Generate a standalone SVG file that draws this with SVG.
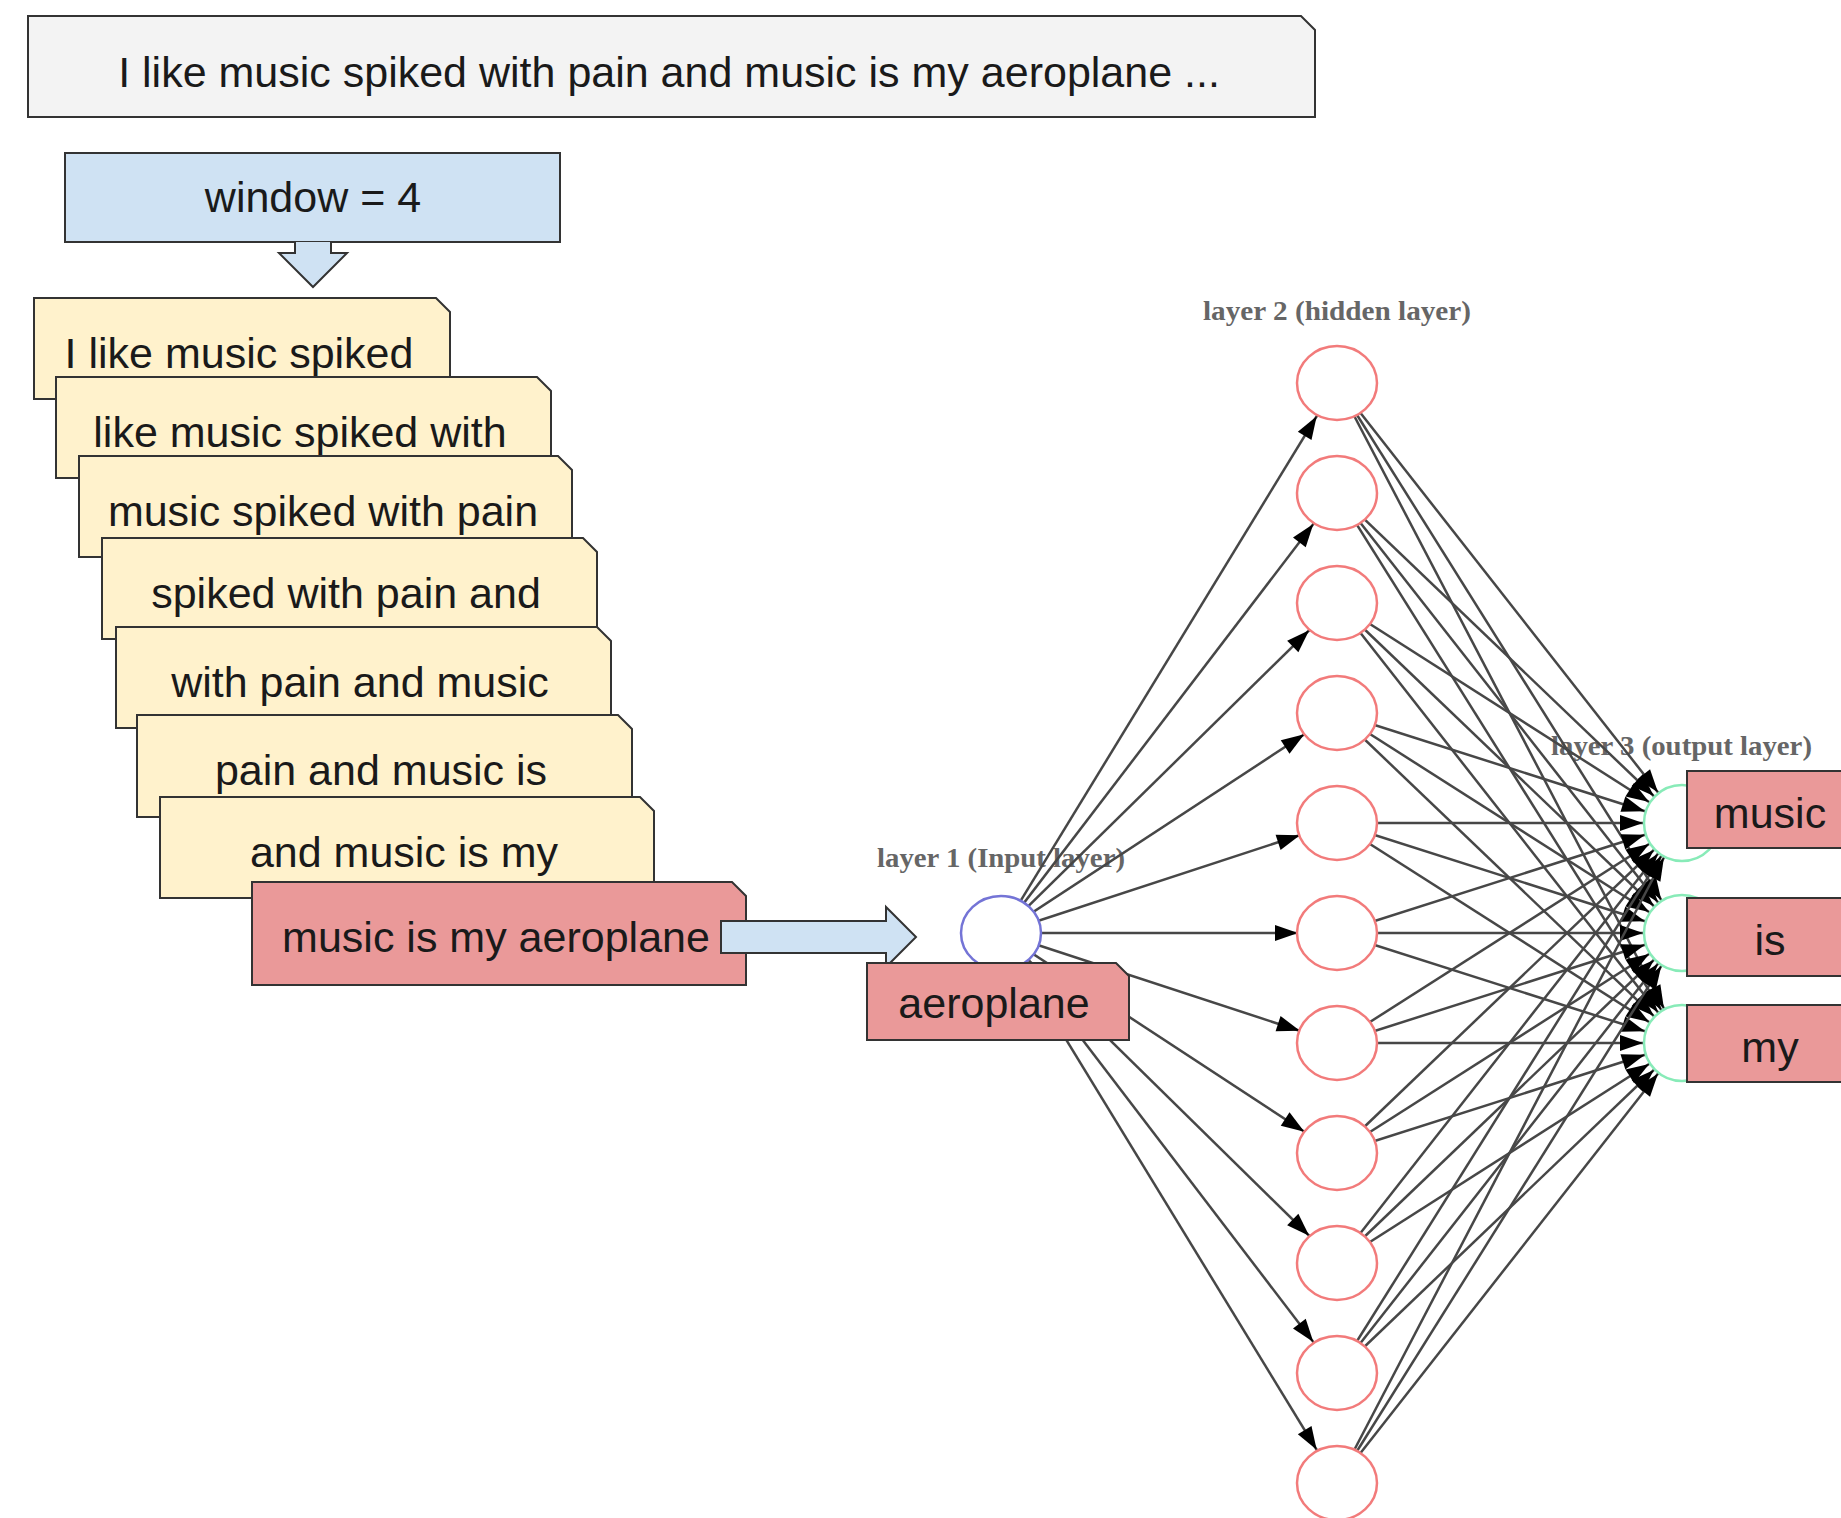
<svg xmlns="http://www.w3.org/2000/svg" width="1841" height="1518" viewBox="0 0 1841 1518">
  <style>
    .box { stroke: #333; stroke-width: 2; }
    .sent { fill: #f3f3f3; }
    .win { fill: #cfe2f3; }
    .ctx { fill: #fff2cc; }
    .word { fill: #ea9999; }
    .t { font-family: "Liberation Sans", Arial, sans-serif; font-size: 43px; fill: #1a1a1a; text-anchor: middle; }
    .lbl { font-family: "Liberation Serif", "Times New Roman", serif; font-size: 27px; font-weight: bold; fill: #666; }
    .edge { stroke: #474747; stroke-width: 2.5; marker-end: url(#arrow); }
    .hid { fill: #fff; stroke: #f27b7b; stroke-width: 2.5; }
    .inp { fill: #fff; stroke: #7474d6; stroke-width: 2.5; }
    .out { fill: #fff; stroke: #88ebb8; stroke-width: 2.5; }
  </style>
  <defs>
    <marker id="arrow" markerUnits="userSpaceOnUse" markerWidth="60" markerHeight="30" refX="39" refY="0" orient="auto" overflow="visible">
      <path d="M-23,-8 L0,0 L-23,8 Z" fill="#000"/>
    </marker>
  </defs>
  <rect width="1841" height="1518" fill="#fff"/>

  <!-- full sentence -->
  <g id="sentence">
    <path class="box sent" d="M28,16 H1301 L1315,30 V117 H28 Z"/>
    <text class="t" x="669" y="87">I like music spiked with pain and music is my aeroplane ...</text>
  </g>

  <!-- window size -->
  <g id="window">
    <rect class="box win" x="65" y="153" width="495" height="89"/>
    <text class="t" x="313" y="212">window = 4</text>
  </g>
  <g id="window-arrow">
    <path class="box win" d="M295,242 V253 H279 L313,287 L347,253 H331 V242"/>
  </g>

  <!-- sliding context windows -->
  <g id="ctx1">
    <path class="box ctx" d="M34,298 H436 L450,312 V399 H34 Z"/>
    <text class="t" x="239" y="368">I like music spiked</text>
  </g>
  <g id="ctx2">
    <path class="box ctx" d="M56,377 H537 L551,391 V478 H56 Z"/>
    <text class="t" x="300" y="447">like music spiked with</text>
  </g>
  <g id="ctx3">
    <path class="box ctx" d="M79,456 H558 L572,470 V557 H79 Z"/>
    <text class="t" x="323" y="526">music spiked with pain</text>
  </g>
  <g id="ctx4">
    <path class="box ctx" d="M102,538 H583 L597,552 V639 H102 Z"/>
    <text class="t" x="346" y="608">spiked with pain and</text>
  </g>
  <g id="ctx5">
    <path class="box ctx" d="M116,627 H597 L611,641 V728 H116 Z"/>
    <text class="t" x="360" y="697">with pain and music</text>
  </g>
  <g id="ctx6">
    <path class="box ctx" d="M137,715 H618 L632,729 V817 H137 Z"/>
    <text class="t" x="381" y="785">pain and music is</text>
  </g>
  <g id="ctx7">
    <path class="box ctx" d="M160,797 H640 L654,811 V898 H160 Z"/>
    <text class="t" x="404" y="867">and music is my</text>
  </g>
  <g id="ctx8">
    <path class="box word" d="M252,882 H732 L746,896 V985 H252 Z"/>
    <text class="t" x="496" y="952">music is my aeroplane</text>
  </g>
  <g id="feed-arrow">
    <path class="box win" d="M721,921 H886 V907 L916,937 L886,967 V953 H721 Z"/>
  </g>

  <!-- layer captions -->
  <g id="captions">
    <text class="lbl" x="877" y="867" textLength="248" lengthAdjust="spacingAndGlyphs">layer 1 (Input layer)</text>
    <text class="lbl" x="1203" y="320" textLength="268" lengthAdjust="spacingAndGlyphs">layer 2 (hidden layer)</text>
    <text class="lbl" x="1551" y="755" textLength="261" lengthAdjust="spacingAndGlyphs">layer 3 (output layer)</text>
  </g>

  <!-- weights -->
  <g id="connectors">
    <line class="edge" x1="1001" y1="933" x2="1337" y2="383"/>
    <line class="edge" x1="1001" y1="933" x2="1337" y2="493"/>
    <line class="edge" x1="1001" y1="933" x2="1337" y2="603"/>
    <line class="edge" x1="1001" y1="933" x2="1337" y2="713"/>
    <line class="edge" x1="1001" y1="933" x2="1337" y2="823"/>
    <line class="edge" x1="1001" y1="933" x2="1337" y2="933"/>
    <line class="edge" x1="1001" y1="933" x2="1337" y2="1043"/>
    <line class="edge" x1="1001" y1="933" x2="1337" y2="1153"/>
    <line class="edge" x1="1001" y1="933" x2="1337" y2="1263"/>
    <line class="edge" x1="1001" y1="933" x2="1337" y2="1373"/>
    <line class="edge" x1="1001" y1="933" x2="1337" y2="1483"/>

    <line class="edge" x1="1337" y1="383" x2="1682" y2="823"/>
    <line class="edge" x1="1337" y1="383" x2="1682" y2="933"/>
    <line class="edge" x1="1337" y1="383" x2="1682" y2="1043"/>
    <line class="edge" x1="1337" y1="493" x2="1682" y2="823"/>
    <line class="edge" x1="1337" y1="493" x2="1682" y2="933"/>
    <line class="edge" x1="1337" y1="493" x2="1682" y2="1043"/>
    <line class="edge" x1="1337" y1="603" x2="1682" y2="823"/>
    <line class="edge" x1="1337" y1="603" x2="1682" y2="933"/>
    <line class="edge" x1="1337" y1="603" x2="1682" y2="1043"/>
    <line class="edge" x1="1337" y1="713" x2="1682" y2="823"/>
    <line class="edge" x1="1337" y1="713" x2="1682" y2="933"/>
    <line class="edge" x1="1337" y1="713" x2="1682" y2="1043"/>
    <line class="edge" x1="1337" y1="823" x2="1682" y2="823"/>
    <line class="edge" x1="1337" y1="823" x2="1682" y2="933"/>
    <line class="edge" x1="1337" y1="823" x2="1682" y2="1043"/>
    <line class="edge" x1="1337" y1="933" x2="1682" y2="823"/>
    <line class="edge" x1="1337" y1="933" x2="1682" y2="933"/>
    <line class="edge" x1="1337" y1="933" x2="1682" y2="1043"/>
    <line class="edge" x1="1337" y1="1043" x2="1682" y2="823"/>
    <line class="edge" x1="1337" y1="1043" x2="1682" y2="933"/>
    <line class="edge" x1="1337" y1="1043" x2="1682" y2="1043"/>
    <line class="edge" x1="1337" y1="1153" x2="1682" y2="823"/>
    <line class="edge" x1="1337" y1="1153" x2="1682" y2="933"/>
    <line class="edge" x1="1337" y1="1153" x2="1682" y2="1043"/>
    <line class="edge" x1="1337" y1="1263" x2="1682" y2="823"/>
    <line class="edge" x1="1337" y1="1263" x2="1682" y2="933"/>
    <line class="edge" x1="1337" y1="1263" x2="1682" y2="1043"/>
    <line class="edge" x1="1337" y1="1373" x2="1682" y2="823"/>
    <line class="edge" x1="1337" y1="1373" x2="1682" y2="933"/>
    <line class="edge" x1="1337" y1="1373" x2="1682" y2="1043"/>
    <line class="edge" x1="1337" y1="1483" x2="1682" y2="823"/>
    <line class="edge" x1="1337" y1="1483" x2="1682" y2="933"/>
    <line class="edge" x1="1337" y1="1483" x2="1682" y2="1043"/>
  </g>

  <!-- input neuron -->
  <g id="input"><ellipse class="inp" cx="1001" cy="933" rx="40" ry="37"/></g>

  <!-- hidden neurons -->
  <g id="h1"><ellipse class="hid" cx="1337" cy="383" rx="40" ry="37"/></g>
  <g id="h2"><ellipse class="hid" cx="1337" cy="493" rx="40" ry="37"/></g>
  <g id="h3"><ellipse class="hid" cx="1337" cy="603" rx="40" ry="37"/></g>
  <g id="h4"><ellipse class="hid" cx="1337" cy="713" rx="40" ry="37"/></g>
  <g id="h5"><ellipse class="hid" cx="1337" cy="823" rx="40" ry="37"/></g>
  <g id="h6"><ellipse class="hid" cx="1337" cy="933" rx="40" ry="37"/></g>
  <g id="h7"><ellipse class="hid" cx="1337" cy="1043" rx="40" ry="37"/></g>
  <g id="h8"><ellipse class="hid" cx="1337" cy="1153" rx="40" ry="37"/></g>
  <g id="h9"><ellipse class="hid" cx="1337" cy="1263" rx="40" ry="37"/></g>
  <g id="h10"><ellipse class="hid" cx="1337" cy="1373" rx="40" ry="37"/></g>
  <g id="h11"><ellipse class="hid" cx="1337" cy="1483" rx="40" ry="37"/></g>

  <!-- output neurons -->
  <g id="o1"><circle class="out" cx="1682" cy="823" r="38"/></g>
  <g id="o2"><circle class="out" cx="1682" cy="933" r="38"/></g>
  <g id="o3"><circle class="out" cx="1682" cy="1043" r="38"/></g>

  <!-- word tags -->
  <g id="input-word">
    <path class="box word" d="M867,963 H1116 L1129,976 V1040 H867 Z"/>
    <text class="t" x="994" y="1018">aeroplane</text>
  </g>
  <g id="out-music">
    <rect class="box word" x="1687" y="771" width="170" height="77"/>
    <text class="t" x="1770" y="828">music</text>
  </g>
  <g id="out-is">
    <rect class="box word" x="1687" y="898" width="170" height="78"/>
    <text class="t" x="1770" y="955">is</text>
  </g>
  <g id="out-my">
    <rect class="box word" x="1687" y="1005" width="170" height="77"/>
    <text class="t" x="1770" y="1062">my</text>
  </g>
</svg>
